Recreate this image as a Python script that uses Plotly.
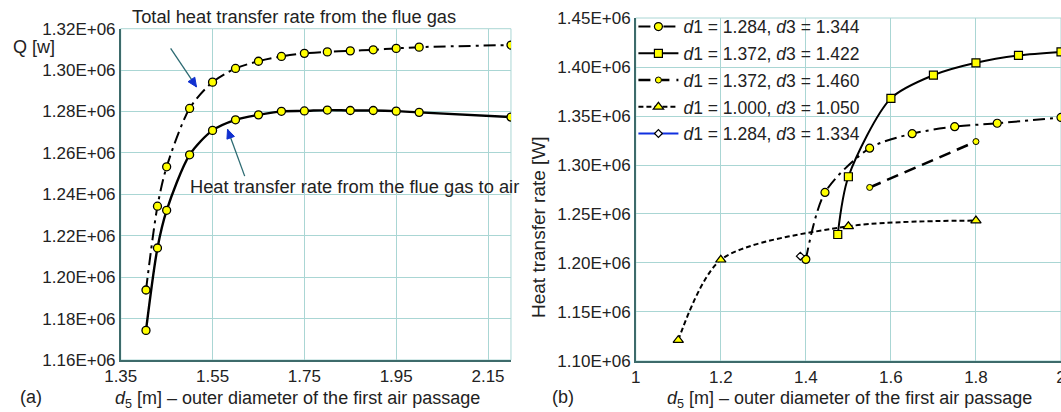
import plotly.graph_objects as go

# ---------------- data: panel (a) ----------------
a_x = [1.405, 1.43, 1.45, 1.50, 1.55, 1.60, 1.65, 1.70, 1.75, 1.80, 1.85, 1.90, 1.95, 2.00, 2.20]
a_total = [1.1938e6, 1.2343e6, 1.2533e6, 1.2815e6, 1.2942e6, 1.3008e6, 1.3043e6, 1.3066e6,
           1.3081e6, 1.3088e6, 1.3093e6, 1.3098e6, 1.3105e6, 1.3111e6, 1.3121e6]
a_air = [1.1743e6, 1.2141e6, 1.2323e6, 1.2591e6, 1.2709e6, 1.2760e6, 1.2784e6, 1.2801e6,
         1.2803e6, 1.2807e6, 1.2805e6, 1.2805e6, 1.2802e6, 1.2796e6, 1.2773e6]
a_xticks = [1.35, 1.55, 1.75, 1.95, 2.15]
a_xticktext = ["1.35", "1.55", "1.75", "1.95", "2.15"]
a_yticks = [1.16e6, 1.18e6, 1.20e6, 1.22e6, 1.24e6, 1.26e6, 1.28e6, 1.30e6, 1.32e6]
a_yticktext = ["1.16E+06", "1.18E+06", "1.20E+06", "1.22E+06", "1.24E+06",
               "1.26E+06", "1.28E+06", "1.30E+06", "1.32E+06"]

# ---------------- data: panel (b) ----------------
b1_x = [1.40, 1.445, 1.55, 1.65, 1.75, 1.85, 2.00]
b1_y = [1.2037e6, 1.2720e6, 1.3172e6, 1.3320e6, 1.3391e6, 1.3426e6, 1.3485e6]
b2_x = [1.475, 1.50, 1.60, 1.70, 1.80, 1.90, 2.00]
b2_y = [1.2291e6, 1.2880e6, 1.3680e6, 1.3917e6, 1.4043e6, 1.4118e6, 1.4154e6]
b3_x = [1.55, 1.80]
b3_y = [1.2771e6, 1.3239e6]
b4_x = [1.10, 1.20, 1.50, 1.80]
b4_y = [1.1213e6, 1.2033e6, 1.2374e6, 1.2433e6]
b5_x = [1.387]
b5_y = [1.2070e6]
b_names = ["<i>d</i>1 = 1.284, <i>d</i>3 = 1.344",
           "<i>d</i>1 = 1.372, <i>d</i>3 = 1.422",
           "<i>d</i>1 = 1.372, <i>d</i>3 = 1.460",
           "<i>d</i>1 = 1.000, <i>d</i>3 = 1.050",
           "<i>d</i>1 = 1.284, <i>d</i>3 = 1.334"]
b_xticks = [1.0, 1.2, 1.4, 1.6, 1.8, 2.0]
b_xticktext = ["1", "1.2", "1.4", "1.6", "1.8", "2"]
b_yticks = [1.10e6, 1.15e6, 1.20e6, 1.25e6, 1.30e6, 1.35e6, 1.40e6, 1.45e6]
b_yticktext = ["1.10E+06", "1.15E+06", "1.20E+06", "1.25E+06",
               "1.30E+06", "1.35E+06", "1.40E+06", "1.45E+06"]

FONT = "Liberation Sans, Arial, sans-serif"
GRID = "#aad6d4"
AXIS = "#3d6b6b"
YEL = "#ffff00"
TXT = "#222"

fig = go.Figure()

mk = dict(color=YEL, size=8, line=dict(color="black", width=1.3))

fig.add_trace(go.Scatter(x=a_x, y=a_total, mode="lines+markers", xaxis="x", yaxis="y",
                         line=dict(color="black", width=2, dash="12px,5px,3px,5px", shape="spline", smoothing=0.8),
                         marker=dict(symbol="circle", **mk), showlegend=False))
fig.add_trace(go.Scatter(x=a_x, y=a_air, mode="lines+markers", xaxis="x", yaxis="y",
                         line=dict(color="black", width=2.4, shape="spline", smoothing=0.8),
                         marker=dict(symbol="circle", **mk), showlegend=False))

fig.add_trace(go.Scatter(x=b1_x, y=b1_y, mode="lines+markers", xaxis="x2", yaxis="y2", name=b_names[0],
                         legendgroup="g1",
                         line=dict(color="black", width=2, dash="12px,5px,3px,5px", shape="spline", smoothing=0.8),
                         marker=dict(symbol="circle", color=YEL, size=8, line=dict(color="black", width=1.2))))
fig.add_trace(go.Scatter(x=b2_x, y=b2_y, mode="lines+markers", xaxis="x2", yaxis="y2", name=b_names[1],
                         legendgroup="g2",
                         line=dict(color="black", width=2, shape="spline", smoothing=0.8),
                         marker=dict(symbol="square", color=YEL, size=8, line=dict(color="black", width=1.2))))
fig.add_trace(go.Scatter(x=b3_x, y=b3_y, mode="lines+markers", xaxis="x2", yaxis="y2", name=b_names[2],
                         legendgroup="g3",
                         line=dict(color="black", width=2.6, dash="12px,7px"),
                         marker=dict(symbol="circle", color=YEL, size=6, line=dict(color="black", width=1))))
fig.add_trace(go.Scatter(x=b4_x, y=b4_y, mode="lines+markers", xaxis="x2", yaxis="y2", name=b_names[3],
                         legendgroup="g4",
                         line=dict(color="black", width=2, dash="5px,3px", shape="spline", smoothing=0.8),
                         marker=dict(symbol="triangle-up", color=YEL, size=9, line=dict(color="black", width=1.2))))
fig.add_trace(go.Scatter(x=b5_x, y=b5_y, mode="lines+markers", xaxis="x2", yaxis="y2", name=b_names[4],
                         legendgroup="g5",
                         line=dict(color="#1030e0", width=2),
                         marker=dict(symbol="diamond", color="white", size=6, line=dict(color="black", width=1.2))))

ax_common = dict(showgrid=True, gridcolor=GRID, gridwidth=1, showline=True, linecolor=AXIS, linewidth=1.5,
                 zeroline=False, ticks="", automargin=False, ticklabeloverflow="allow",
                 tickfont=dict(family=FONT, size=17, color=TXT))

fig.update_layout(
    width=1061, height=412, margin=dict(l=0, r=0, t=0, b=0, pad=0, autoexpand=False),
    paper_bgcolor="white", plot_bgcolor="white",
    font=dict(family=FONT, size=18, color=TXT),
    xaxis=dict(domain=[0.1138, 0.4816], range=[1.35, 2.2], tickvals=a_xticks, ticktext=a_xticktext,
               anchor="y", **ax_common),
    yaxis=dict(domain=[0.1262, 0.9303], range=[1.16e6, 1.32e6], tickvals=a_yticks, ticktext=a_yticktext,
               anchor="x", **ax_common),
    xaxis2=dict(domain=[0.5992, 1.0], range=[1.0, 2.0], tickvals=b_xticks, ticktext=b_xticktext,
                anchor="y2", **ax_common),
    yaxis2=dict(domain=[0.1238, 0.9563], range=[1.10e6, 1.45e6], tickvals=b_yticks, ticktext=b_yticktext,
                anchor="x2", **ax_common),
    legend=dict(x=0.597, y=0.979, xanchor="left", yanchor="top", bgcolor="rgba(0,0,0,0)",
                font=dict(family=FONT, size=17.5, color=TXT), itemwidth=40, tracegroupgap=1),
    showlegend=True,
)

# plot frames (top/right edges in grid colour)
for xr, yr in (("x domain", "y domain"), ("x2 domain", "y2 domain")):
    fig.add_shape(type="rect", xref=xr, yref=yr, x0=0, x1=1, y0=0, y1=1,
                  line=dict(color=GRID, width=1), layer="below")

ann = []
def txt(x, y, s, size=18, **kw):
    d = dict(x=x, y=y, xref="paper", yref="paper", text=s, showarrow=False,
             font=dict(family=FONT, size=size, color=TXT))
    d.update(kw)
    ann.append(d)

txt(130 / 1061, 1 - 17 / 412, "Total heat transfer rate from the flue gas", size=18.3, xanchor="left", yanchor="middle")
txt(188 / 1061, 1 - 186 / 412, "Heat transfer rate from the flue gas to air", size=18.3, xanchor="left", yanchor="middle")
txt(11 / 1061, 1 - 47 / 412, "Q [w]", xanchor="left", yanchor="middle")
txt(18 / 1061, 1 - 397 / 412, "(a)", xanchor="left", yanchor="middle")
txt(297 / 1061, 1 - 399 / 412, "<i>d</i><sub>5</sub> [m] – outer diameter of the first air passage",
    xanchor="center", yanchor="middle")
txt(550 / 1061, 1 - 397 / 412, "(b)", xanchor="left", yanchor="middle")
txt(849 / 1061, 1 - 399 / 412, "<i>d</i><sub>5</sub> [m] – outer diameter of the first air passage",
    xanchor="center", yanchor="middle")
txt(538 / 1061, 1 - 227 / 412, "Heat transfer rate [W]", size=19, xanchor="center", yanchor="middle", textangle=-90)
fig.update_layout(annotations=ann)

# arrows: teal shaft + blue filled head (head drawn in pixel offsets from the tip)
arrows = [((1.4587, 1.3105e6), (1.515, 1.2919e6), "M0,0 L-8.4,5.2 L-1.7,9.7 Z"),
          ((1.620, 1.2488e6), (1.5826, 1.2714e6), "M0,0 L6.9,-7.1 L-0.6,-9.8 Z")]
for (tx, ty), (hx, hy), head in arrows:
    fig.add_shape(type="line", xref="x", yref="y", x0=tx, y0=ty, x1=hx, y1=hy,
                  line=dict(color="#2c6a72", width=1.3))
    fig.add_shape(type="path", xref="x", yref="y", xsizemode="pixel", ysizemode="pixel",
                  xanchor=hx, yanchor=hy, path=head, fillcolor="#1030d0",
                  line=dict(color="#1030d0", width=1))

fig.write_html("out.html")
